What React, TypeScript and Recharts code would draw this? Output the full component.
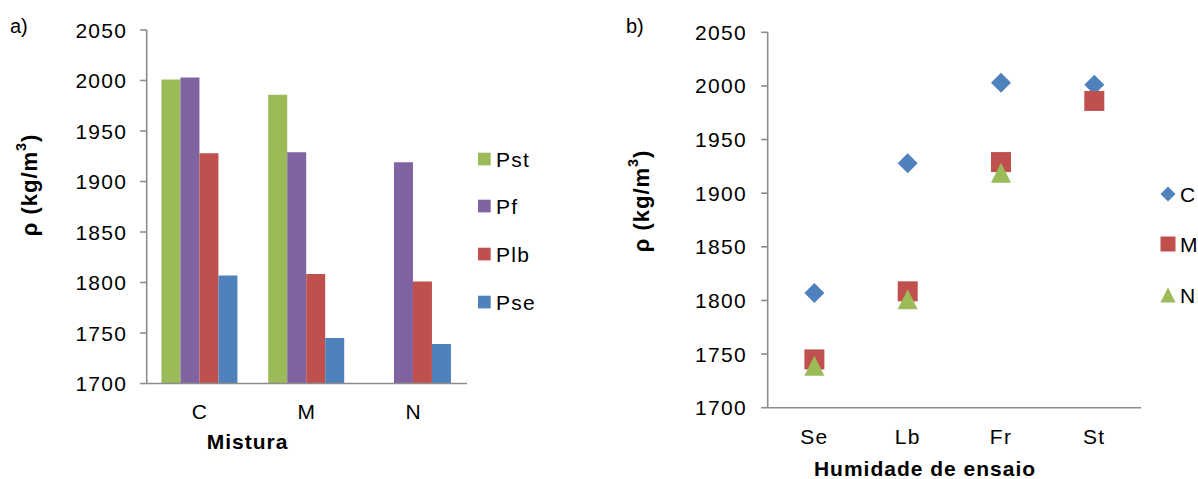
import React from 'react';
import {
  BarChart,
  Bar,
  ComposedChart,
  Scatter,
  XAxis,
  YAxis,
  Label,
} from 'recharts';

// Density per mixture (C, M, N) for each curing condition
const misturas = ['C', 'M', 'N'];
const pst = [2001, 1986, 1698];
const pf = [2003, 1929, 1919];
const plb = [1928, 1808.5, 1801];
const pse = [1807, 1745, 1739];

// Moisture conditions, in axis order, for the scatter panel
const humidades = ['Se', 'Lb', 'Fr', 'St'];
const humidadeSeries = [pse, plb, pf, pst];

const yTicks = [1700, 1750, 1800, 1850, 1900, 1950, 2000, 2050];
const Y_MIN = 1700;
const Y_MAX = 2050;

const FONT = '"Liberation Sans", Arial, sans-serif';
const AXIS = '#8c8c8c';
const GREEN = '#9BBB59';
const PURPLE = '#8064A2';
const RED = '#C0504D';
const BLUE = '#4F81BD';

const barSeries = [
  { key: 'Pst', color: GREEN },
  { key: 'Pf', color: PURPLE },
  { key: 'Plb', color: RED },
  { key: 'Pse', color: BLUE },
];

const scatterSeries = [
  { key: 'C', color: BLUE, kind: 'diamond' },
  { key: 'M', color: RED, kind: 'square' },
  { key: 'N', color: GREEN, kind: 'triangle' },
];

const barData = misturas.map((m, i) => ({
  mistura: m,
  Pst: pst[i],
  Pf: pf[i],
  Plb: plb[i],
  Pse: pse[i],
}));

const scatterData = humidades.map((h, j) => {
  const row: Record<string, any> = { humidade: h };
  misturas.forEach((m, i) => {
    row[m] = humidadeSeries[j][i];
  });
  return row;
});

const tickText = { fill: '#000', fontSize: 21, fontFamily: FONT, letterSpacing: 1.3 };
const titleText = { fill: '#000', fontSize: 21, fontFamily: FONT, fontWeight: 700, letterSpacing: 1 };

const YTick = (props: any) => {
  const { x, y, payload } = props;
  return (
    <text x={x} y={y} textAnchor="end" dominantBaseline="central" style={tickText}>
      {payload.value}
    </text>
  );
};

const XTick = (props: any) => {
  const { x, y, payload } = props;
  return (
    <text x={x} y={y} dy="0.71em" textAnchor="middle" style={tickText}>
      {payload.value}
    </text>
  );
};

const xTitle = (text: string, x: number, y: number) => () => (
  <text x={x} y={y} textAnchor="middle" dominantBaseline="central" style={titleText}>
    {text}
  </text>
);

const yTitle = (x: number, y: number) => () => (
  <text
    x={x}
    y={y}
    textAnchor="middle"
    dominantBaseline="central"
    transform={`rotate(-90 ${x} ${y})`}
    style={{ ...titleText, fontSize: 22 }}
  >
    ρ (kg/m
    <tspan baselineShift="super" fontSize="0.65em">3</tspan>)
  </text>
);

function markerPath(kind: string, cx: number, cy: number, r: number, color: string) {
  if (kind === 'diamond') {
    return (
      <polygon
        points={`${cx},${cy - r} ${cx + r},${cy} ${cx},${cy + r} ${cx - r},${cy}`}
        fill={color}
      />
    );
  }
  if (kind === 'square') {
    return <rect x={cx - r} y={cy - r} width={r * 2} height={r * 2} fill={color} />;
  }
  return (
    <polygon
      points={`${cx},${cy - r} ${cx + r},${cy + r} ${cx - r},${cy + r}`}
      fill={color}
    />
  );
}

// Points below the axis floor are left out, as the spreadsheet does
const scatterShape = (key: string, kind: string, color: string) => (props: any) => {
  const { cx, cy, payload } = props;
  const v = payload ? payload[key] : null;
  if (v == null || v < Y_MIN || !Number.isFinite(cx) || !Number.isFinite(cy)) return <g />;
  return markerPath(kind, cx, cy, 10, color);
};

export default function App() {
  return (
    <div
      style={{
        position: 'absolute',
        left: 0,
        top: 0,
        width: 1198,
        height: 479,
        background: '#fff',
        fontFamily: FONT,
      }}
    >
      <div style={{ position: 'absolute', left: 0, top: 0 }}>
        <BarChart
          width={600}
          height={479}
          data={barData}
          margin={{ top: 30, right: 133, bottom: 0, left: 0 }}
          barCategoryGap="13.8%"
          barGap={0}
        >
          <XAxis
            dataKey="mistura"
            height={95.5}
            tickLine={false}
            tickSize={0}
            tickMargin={20.5}
            tick={<XTick />}
            axisLine={{ stroke: AXIS, strokeWidth: 1.6 }}
          >
            <Label content={xTitle('Mistura', 247.6, 441.7)} />
          </XAxis>
          <YAxis
            width={146.7}
            domain={[Y_MIN, Y_MAX]}
            ticks={yTicks}
            interval={0}
            allowDataOverflow
            tickSize={6.5}
            tickMargin={12.9}
            tick={<YTick />}
            tickLine={{ stroke: AXIS, strokeWidth: 1.6 }}
            axisLine={{ stroke: AXIS, strokeWidth: 1.6 }}
          >
            <Label content={yTitle(29, 185)} />
          </YAxis>
          {barSeries.map((s) => (
            <Bar key={s.key} dataKey={s.key} fill={s.color} isAnimationActive={false} />
          ))}
        </BarChart>
      </div>

      <div style={{ position: 'absolute', left: 600, top: 0 }}>
        <ComposedChart
          width={598}
          height={479}
          data={scatterData}
          margin={{ top: 32.3, right: 57, bottom: 0, left: 0 }}
        >
          {/* half a category of padding keeps each point centred in its slot */}
          <XAxis
            dataKey="humidade"
            height={71.3}
            padding={{ left: 46.7, right: 46.7 }}
            tickLine={false}
            tickSize={0}
            tickMargin={21.4}
            tick={<XTick />}
            axisLine={{ stroke: AXIS, strokeWidth: 1.6 }}
          >
            <Label content={xTitle('Humidade de ensaio', 325, 468)} />
          </XAxis>
          <YAxis
            width={167.7}
            domain={[Y_MIN, Y_MAX]}
            ticks={yTicks}
            interval={0}
            allowDataOverflow
            tickSize={6.5}
            tickMargin={14.2}
            tick={<YTick />}
            tickLine={{ stroke: AXIS, strokeWidth: 1.6 }}
            axisLine={{ stroke: AXIS, strokeWidth: 1.6 }}
          >
            <Label content={yTitle(41, 201)} />
          </YAxis>
          {scatterSeries.map((s) => (
            <Scatter
              key={s.key}
              dataKey={s.key}
              fill={s.color}
              shape={scatterShape(s.key, s.kind, s.color)}
              isAnimationActive={false}
            />
          ))}
        </ComposedChart>
      </div>

      {/* panel letters and legends */}
      <svg
        width={1198}
        height={479}
        style={{ position: 'absolute', left: 0, top: 0, pointerEvents: 'none' }}
      >
        <text x={10} y={33} style={{ fill: '#000', fontSize: 20, fontFamily: FONT }}>a)</text>
        <text x={626} y={33} style={{ fill: '#000', fontSize: 20, fontFamily: FONT }}>b)</text>

        {barSeries.map((s, i) => {
          const cy = [159, 206, 254, 302][i];
          return (
            <g key={s.key}>
              <rect x={478} y={cy - 6.3} width={12.7} height={12.7} fill={s.color} />
              <text x={496} y={cy} dominantBaseline="central" style={tickText}>
                {s.key}
              </text>
            </g>
          );
        })}

        {scatterSeries.map((s, i) => {
          const cy = [194, 244, 295][i];
          return (
            <g key={s.key}>
              {markerPath(s.kind, 1168, cy, 7.5, s.color)}
              <text x={1180} y={cy} dominantBaseline="central" style={tickText}>
                {s.key}
              </text>
            </g>
          );
        })}
      </svg>
    </div>
  );
}
